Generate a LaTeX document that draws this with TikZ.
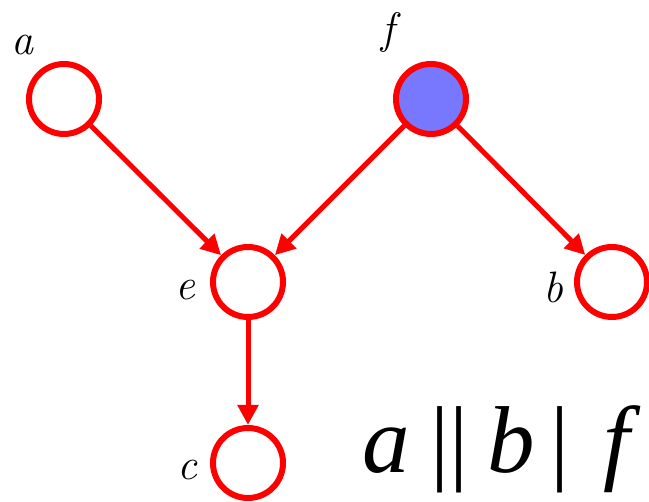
\documentclass[tikz,border=0pt]{standalone}
\usepackage{amsmath, amssymb}
\usepackage{fontspec}
\usepackage{tikz}
\usepackage{xcolor}
\usetikzlibrary{positioning, arrows.meta}
\setmainfont{Latin Modern Roman}
\newfontfamily\bigserif{Liberation Serif}
\newfontfamily\bigital{Liberation Serif Italic}
\definecolor{cEdge}{HTML}{FF0000}
\definecolor{cObs} {HTML}{7878FF}
\definecolor{cText}{HTML}{000000}
\tikzset{
  var/.style={circle, draw=cEdge, line width=6pt, fill=white, minimum size=70pt, inner sep=0pt},
  obs/.style={var, fill=cObs},
  edge/.style={draw=cEdge, line width=5pt, -{Triangle[length=20pt, width=20pt]}},
  vlabel/.style={font=\fontsize{44}{44}\selectfont\itshape, text=cText, inner sep=0pt},
}

\begin{document}
\begin{tikzpicture}
        \useasboundingbox (0pt,0pt) rectangle (649pt,-502pt);
        % nodes of the graph
        \node[var] (a) at (64pt,-99pt)  {};
        \node[obs] (f) at (431pt,-99pt) {};
        \node[var] (e) at (248pt,-282pt) {};
        \node[var] (b) at (612pt,-282pt) {};
        \node[var] (c) at (248pt,-463pt) {};
        % labels
        \node[vlabel] (la) at (23pt,-45pt)  {a};
        \node[vlabel] (lf) at (388pt,-33pt) {f};
        \node[vlabel] (le) at (185pt,-290pt) {e};
        \node[vlabel] (lb) at (553pt,-287pt) {b};
        \node[vlabel] (lc) at (187pt,-470pt) {c};
        % edges
        \draw[edge] (a) -- (e);
        \draw[edge] (f) -- (e);
        \draw[edge] (f) -- (b);
        \draw[edge] (e) -- (c);
        % independence statement
        \node[anchor=base west, inner sep=0pt, text=cText,
              font=\bigserif\fontsize{95}{95}\selectfont] (stmt) at (362pt,-473pt)
              {{\bigital a}\hspace{0.22em}||\hspace{0.2em}{\bigital b}\hspace{0.16em}|\hspace{0.36em}{\bigital f}};
\end{tikzpicture}
\end{document}
